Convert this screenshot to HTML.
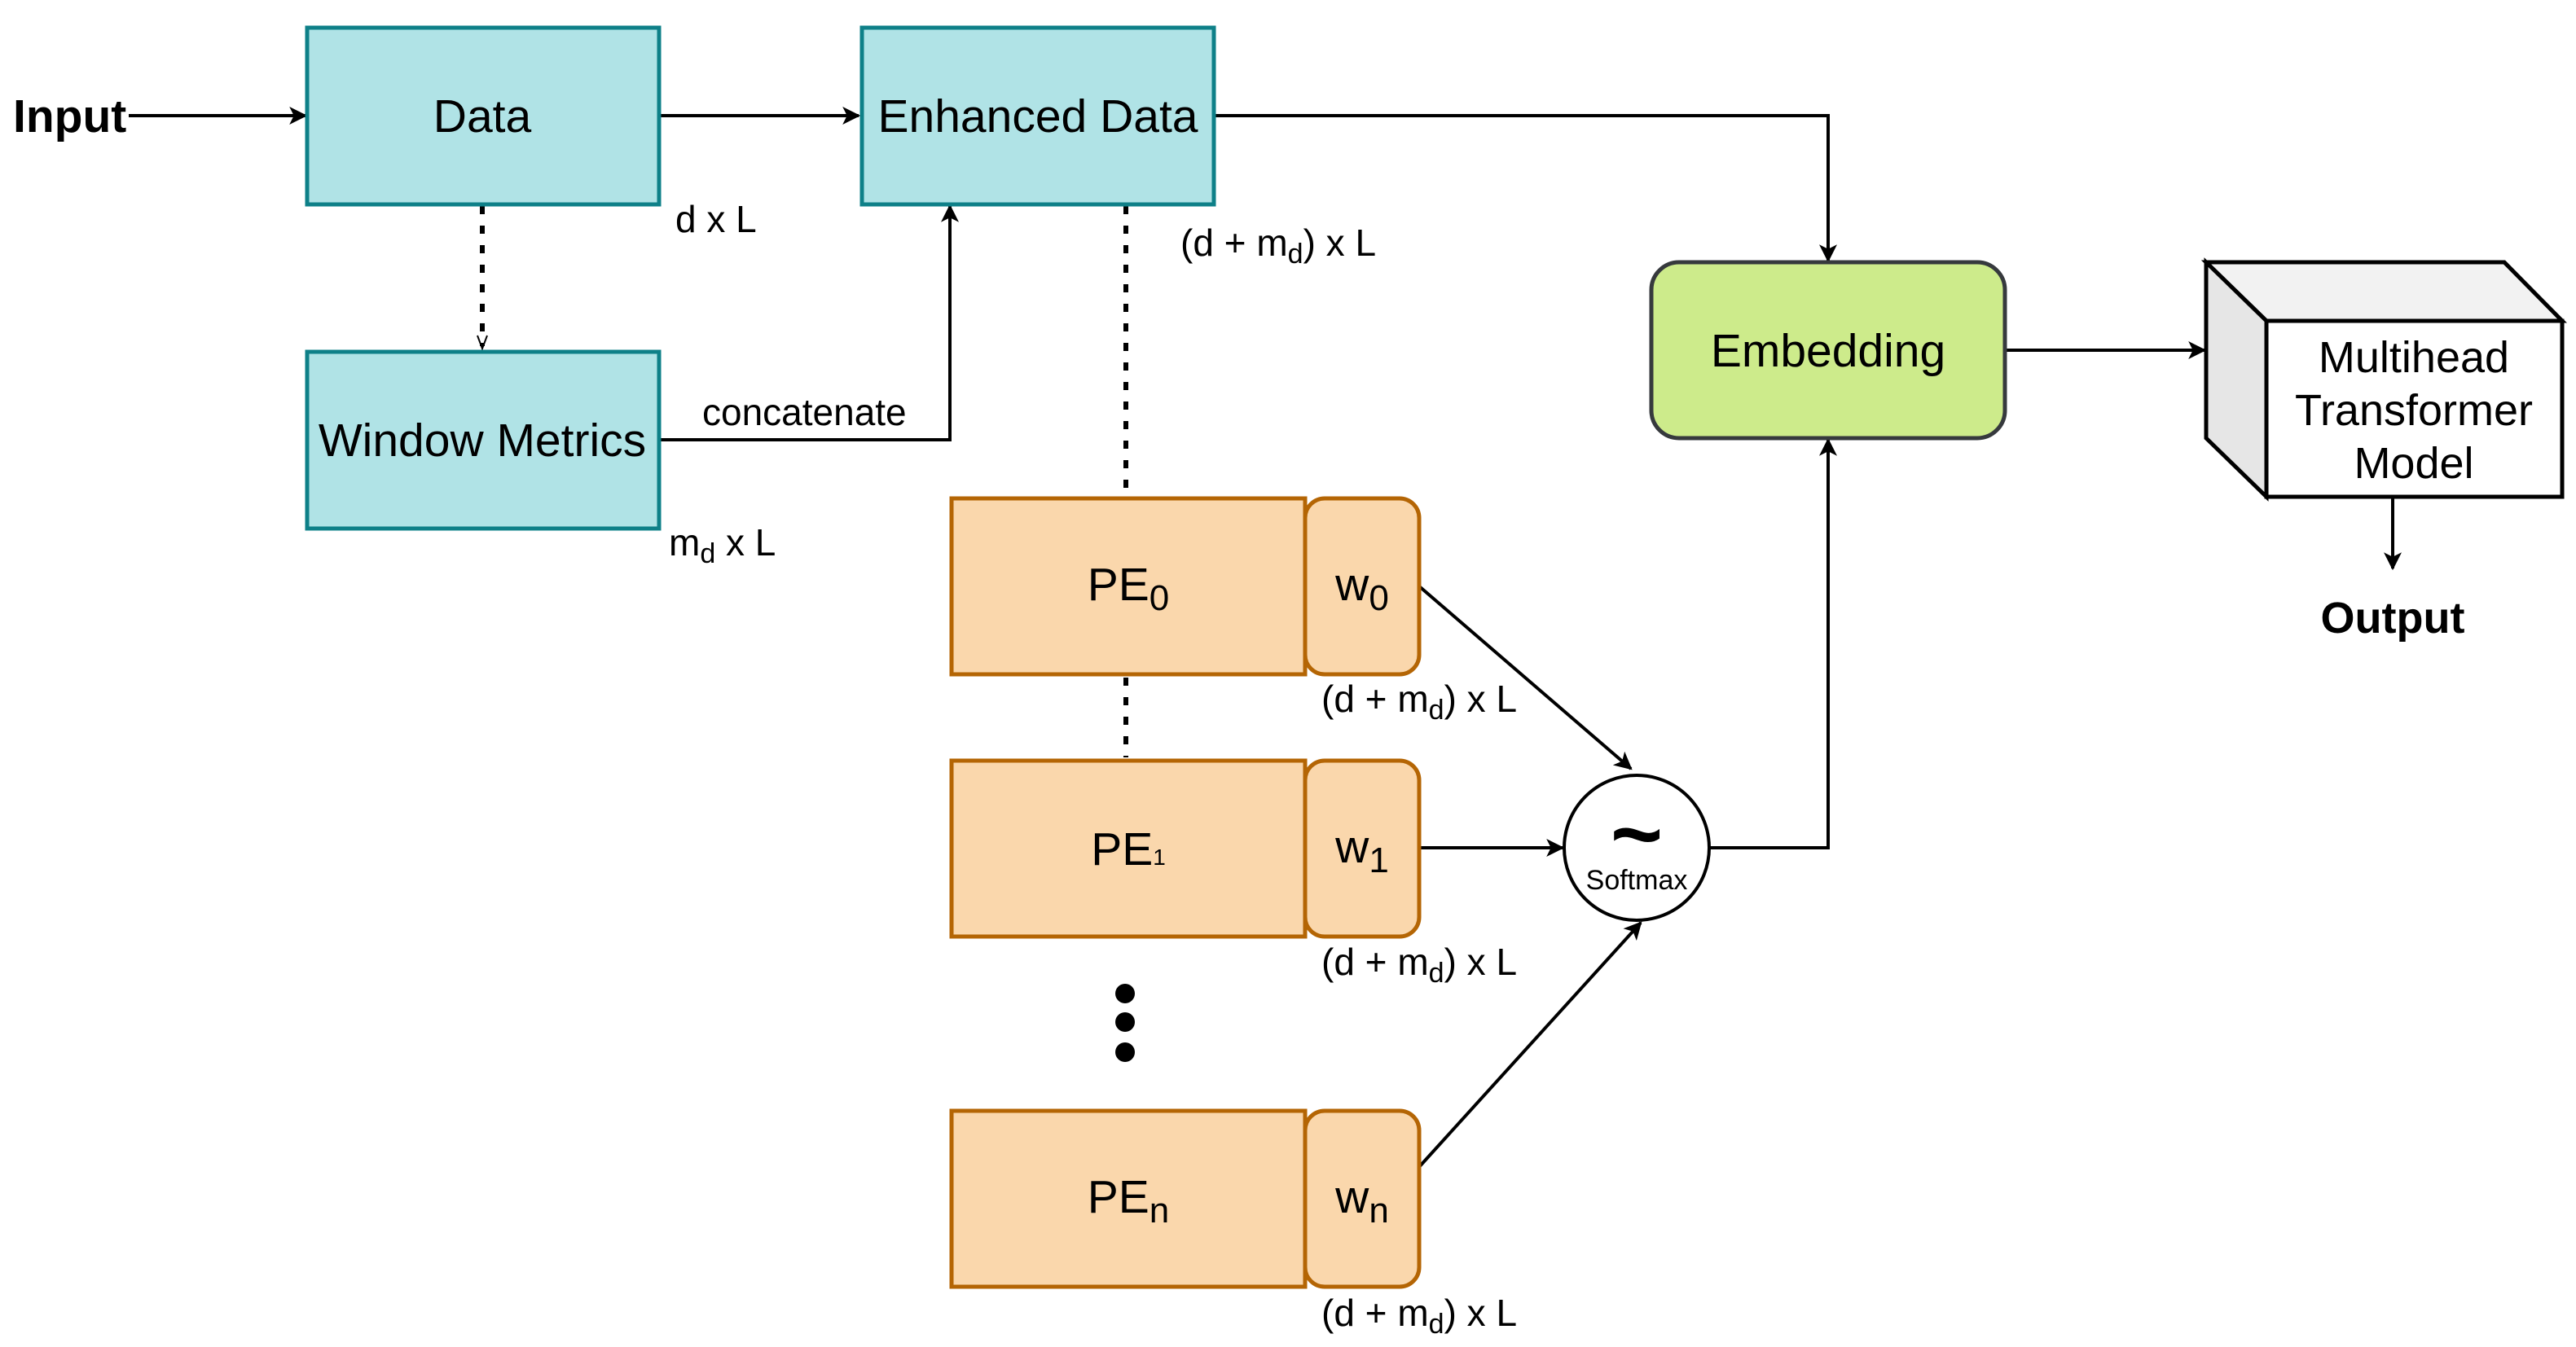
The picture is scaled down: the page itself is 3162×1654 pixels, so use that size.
<!DOCTYPE html>
<html><head><meta charset="utf-8"><style>html,body{margin:0;padding:0;background:#fff}svg{display:block}text{font-family:"Liberation Sans",Arial,sans-serif;fill:#000}</style></head>
<body>
<svg width="3162" height="1654" viewBox="0 0 3162 1654" xmlns="http://www.w3.org/2000/svg">
<defs>
<marker id="a" viewBox="0 0 20 20" refX="18" refY="10" markerWidth="22" markerHeight="22" markerUnits="userSpaceOnUse" orient="auto">
<path d="M0,0 L20,10 L0,20 L5,10 Z" fill="#000"/></marker>
</defs>
<g stroke="#000" stroke-width="4" fill="none">
<line x1="158" y1="142" x2="375" y2="142" marker-end="url(#a)"/>
<line x1="811" y1="142" x2="1054" y2="142" marker-end="url(#a)"/>
<polyline points="811,540 1166,540 1166,253" marker-end="url(#a)"/>
<polyline points="1490,142 2244,142 2244,320" marker-end="url(#a)"/>
<line x1="2461" y1="430" x2="2706" y2="430" marker-end="url(#a)"/>
<line x1="2937" y1="610" x2="2937" y2="698" marker-end="url(#a)"/>
<line x1="1741" y1="719" x2="2002" y2="944" marker-end="url(#a)"/>
<line x1="1743" y1="1041" x2="1918" y2="1041" marker-end="url(#a)"/>
<line x1="1741" y1="1434" x2="2014" y2="1133" marker-end="url(#a)"/>
<polyline points="2098,1041 2244,1041 2244,540" marker-end="url(#a)"/>
<g stroke-width="6" stroke-dasharray="10,14">
<line x1="592" y1="253" x2="592" y2="425"/>
<line x1="1382" y1="253" x2="1382" y2="608"/>
<line x1="1382" y1="832" x2="1382" y2="930"/>
</g>
<polyline points="586,412 592,428 598,412" stroke-width="2"/>
</g>
<g stroke="#0e8088" stroke-width="5" fill="#b0e3e6">
<rect x="377" y="34" width="432" height="217"/>
<rect x="1058" y="34" width="432" height="217"/>
<rect x="377" y="432" width="432" height="217"/>
</g>
<g stroke="#b46504" stroke-width="5" fill="#fad7ac">
<rect x="1168" y="612" width="434" height="216"/>
<rect x="1168" y="934" width="434" height="216"/>
<rect x="1168" y="1364" width="434" height="216"/>
<rect x="1602" y="612" width="140" height="216" rx="24"/>
<rect x="1602" y="934" width="140" height="216" rx="24"/>
<rect x="1602" y="1364" width="140" height="216" rx="24"/>
</g>
<rect x="2027" y="322" width="434" height="216" rx="34" fill="#cdeb8b" stroke="#36393d" stroke-width="5"/>
<g stroke="#000" stroke-width="5">
<polygon points="2708,322 3074,322 3145,394 2782,394" fill="#f2f2f2"/>
<polygon points="2708,322 2782,394 2782,610 2708,538" fill="#e6e6e6"/>
<rect x="2782" y="394" width="363" height="216" fill="#fff"/>
</g>
<circle cx="2009" cy="1041" r="89" fill="#fff" stroke="#000" stroke-width="4"/>
<g fill="#000"><circle cx="1381" cy="1220" r="12"/><circle cx="1381" cy="1255" r="12"/><circle cx="1381" cy="1292" r="12"/></g>
<text x="16" y="162" font-size="57" font-weight="bold">Input</text>
<g font-size="57" text-anchor="middle">
<text x="592" y="162">Data</text>
<text x="1274" y="162">Enhanced Data</text>
<text x="592" y="560">Window Metrics</text>
<text x="2244" y="450">Embedding</text>
<text x="2963" y="457" font-size="54">Multihead</text>
<text x="2963" y="522" font-size="54">Transformer</text>
<text x="2963" y="587" font-size="54">Model</text>
<text x="1385" y="737">PE<tspan font-size="44" dy="12">0</tspan></text>
<text x="1385" y="1062">PE<tspan font-size="28">1</tspan></text>
<text x="1385" y="1489">PE<tspan font-size="44" dy="12">n</tspan></text>
<text x="1672" y="737">w<tspan font-size="44" dy="12">0</tspan></text>
<text x="1672" y="1059">w<tspan font-size="44" dy="12">1</tspan></text>
<text x="1672" y="1489">w<tspan font-size="44" dy="12">n</tspan></text>
<text x="2937" y="777" font-size="54" font-weight="bold">Output</text>
</g>
<g font-size="46">
<text x="829" y="285">d x L</text>
<text x="1449" y="314">(d + m<tspan font-size="34" dy="9">d</tspan><tspan dy="-9">) x L</tspan></text>
<text x="821" y="682">m<tspan font-size="34" dy="9">d</tspan><tspan dy="-9"> x L</tspan></text>
<text x="862" y="522">concatenate</text>
<text x="1622" y="874">(d + m<tspan font-size="34" dy="9">d</tspan><tspan dy="-9">) x L</tspan></text>
<text x="1622" y="1197">(d + m<tspan font-size="34" dy="9">d</tspan><tspan dy="-9">) x L</tspan></text>
<text x="1622" y="1628">(d + m<tspan font-size="34" dy="9">d</tspan><tspan dy="-9">) x L</tspan></text>
</g>
<text x="2009" y="1062" font-size="110" font-weight="bold" text-anchor="middle">~</text>
<text x="2009" y="1092" font-size="34" text-anchor="middle">Softmax</text>
</svg>
</body></html>
